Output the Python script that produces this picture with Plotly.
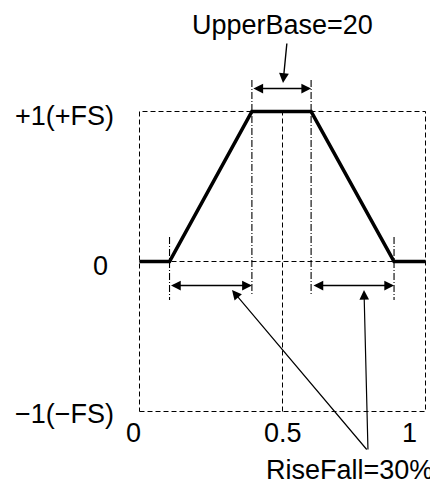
import plotly.graph_objects as go

# ---- data ----
trap_x = [0, 0.105, 0.393, 0.6, 0.89, 1]
trap_y = [0, 0, 1, 1, 0, 0]
x_tick_vals = [0, 0.5, 1]
x_tick_text = ["0", "0.5", "1"]
y_tick_vals = [1, 0, -1]
y_tick_text = ["+1(+FS)", "0", "\u22121(\u2212FS)"]
upper_label = "UpperBase=20"
rise_label = "RiseFall=30%"

OFF = 8                      # page body margin
W, H = 438 - OFF, 485 - OFF
X0PX, X1PX = 139.5 - OFF, 425.5 - OFF      # pixel of x=0 and x=1 (figure coords)
Y1PX, YM1PX = 111.5 - OFF, 411.5 - OFF     # pixel of y=1 and y=-1
sx = (X1PX - X0PX)
sy = (YM1PX - Y1PX) / 2
y0px = Y1PX + sy

def px2x(p):   # p in screen pixels
    return (p - OFF - X0PX) / sx

def px2y(p):
    return (y0px - (p - OFF)) / sy

FONT = "Liberation Sans, Arial, sans-serif"
FS = 27

fig = go.Figure()

dash = "5px,3px"
frame_x = [0, 1, 1, 0, 0]
frame_y = [-1, -1, 1, 1, -1]
fig.add_trace(go.Scatter(x=frame_x, y=frame_y, mode="lines",
                         line=dict(color="black", width=1, dash=dash), hoverinfo="skip"))
fig.add_trace(go.Scatter(x=[0.5, 0.5], y=[-1, 1], mode="lines",
                         line=dict(color="black", width=1, dash=dash), hoverinfo="skip"))
fig.add_trace(go.Scatter(x=[0, 1], y=[0, 0], mode="lines",
                         line=dict(color="black", width=1, dash=dash), hoverinfo="skip"))

dd = "7px,2px,1px,2px"
for xv, top, bot in [(trap_x[2], 80, 296), (trap_x[3], 80, 296),
                     (trap_x[1], 237, 300), (trap_x[4], 237, 300)]:
    fig.add_trace(go.Scatter(x=[xv, xv], y=[px2y(top), px2y(bot)], mode="lines",
                             line=dict(color="black", width=1.1, dash=dd), hoverinfo="skip"))

fig.add_trace(go.Scatter(x=trap_x, y=trap_y, mode="lines",
                         line=dict(color="black", width=3.6), hoverinfo="skip"))

ann = []

def double_arrow(xa, xb, ypx):
    ann.append(dict(x=xb, y=px2y(ypx), ax=xa, ay=px2y(ypx), xref="x", yref="y",
                    axref="x", ayref="y", text="", showarrow=True, arrowhead=2,
                    startarrowhead=2, arrowside="end+start", arrowsize=1.3,
                    startarrowsize=1.3, arrowwidth=1.5, arrowcolor="black",
                    standoff=0, startstandoff=0))

def pointer(tail, tip, w=1.2, s=1.6):
    ann.append(dict(x=px2x(tip[0]), y=px2y(tip[1]), ax=px2x(tail[0]), ay=px2y(tail[1]),
                    xref="x", yref="y", axref="x", ayref="y", text="", showarrow=True,
                    arrowhead=2, arrowsize=s, arrowwidth=w, arrowcolor="black", standoff=0))

double_arrow(trap_x[2], trap_x[3], 88.5)
double_arrow(trap_x[1], trap_x[2], 285.5)
double_arrow(px2x(312), trap_x[4], 285.5)
pointer((287, 42), (283, 83), w=1.4, s=1.4)
pointer((368, 451), (232, 290))
pointer((368, 451), (364, 290))

def label(text, xpx, ypx, xanchor="center"):
    ann.append(dict(x=px2x(xpx), y=px2y(ypx), xref="x", yref="y", text=text,
                    showarrow=False, xanchor=xanchor, yanchor="middle",
                    font=dict(family=FONT, size=FS, color="black")))

label(upper_label, 282, 25)
label(rise_label, 349, 470)
for v, t, xpx in zip(x_tick_vals, x_tick_text, [133, 283, 409]):
    label(t, xpx, 433)
for v, t, (xpx, ypx) in zip(y_tick_vals, y_tick_text, [(116, 116), (100, 266), (116, 414)]):
    if t == "0":
        label(t, xpx, ypx)
    else:
        label(t, xpx, ypx, xanchor="right")

fig.update_layout(
    width=W, height=H, margin=dict(l=0, r=0, t=0, b=0),
    paper_bgcolor="white", plot_bgcolor="white", showlegend=False,
    annotations=ann,
    xaxis=dict(range=[px2x(OFF), px2x(OFF + W)], visible=False, fixedrange=True),
    yaxis=dict(range=[px2y(OFF + H), px2y(OFF)], visible=False, fixedrange=True),
)

fig.write_html("out.html")
